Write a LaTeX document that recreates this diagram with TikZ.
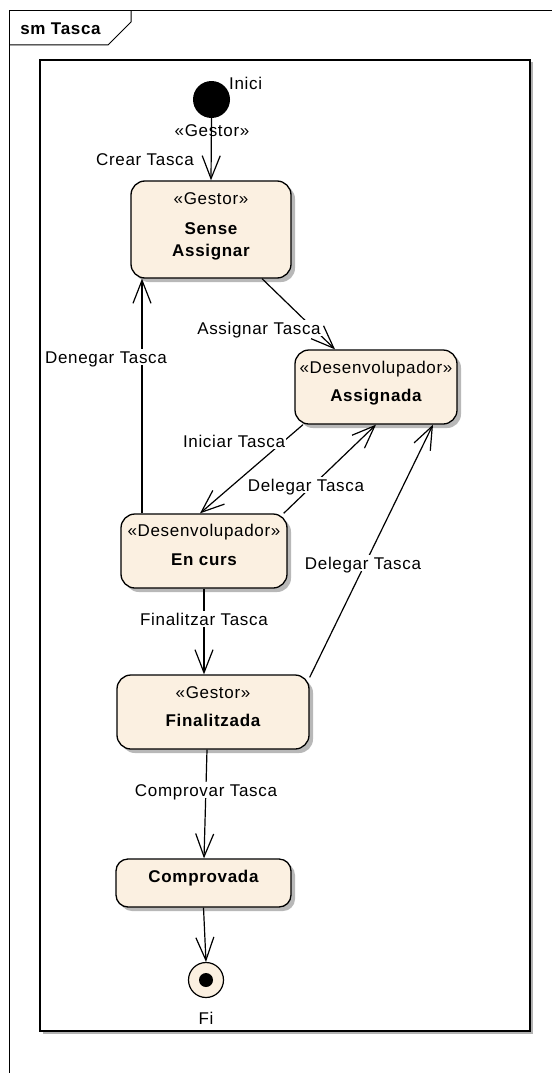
\documentclass[tikz,border=0pt]{standalone}
\usepackage{fontspec}
\setmainfont{Liberation Sans}[LetterSpace=4]
\usetikzlibrary{arrows.meta,shadows}
\definecolor{statefill}{RGB}{251,240,225}
\begin{document}
\begin{tikzpicture}[x=1pt,y=-1pt,
  every node/.style={font=\fontsize{17}{20}\selectfont, inner sep=0pt},
  statebox/.style={draw, fill=statefill, rounded corners=14pt, line width=1.3pt,
    general shadow={fill=black!28, shadow xshift=4pt, shadow yshift=-4pt}},
  stereo/.style={text height=12.5pt, text depth=0.5pt},
  ttl/.style={font=\fontsize{17}{20}\selectfont\bfseries, text height=12.5pt, text depth=0.5pt},
  lbl/.style={fill=white, inner sep=1.5pt, text height=12.5pt, text depth=0.5pt},
  trans/.style={line width=1.2pt, -{Straight Barb[length=23pt,width=18pt]}}]

% page and frames
\useasboundingbox (0,0) rectangle (552,1073);
\fill[white] (0,0) rectangle (552,1073);
\draw[line width=1pt] (9,1073) -- (9,11) -- (552,11);
\draw[line width=1pt] (9,45) -- (108,45) -- (131,22) -- (131,11);
\node[ttl] (frametitle) at (60.5,29) {sm Tasca};
\fill[black!30] (42.5,62.5) rectangle (532.5,1033.5);
\draw[line width=1.3pt, fill=white] (40,60) rectangle (530,1031);

% states
\node[circle, fill=black, minimum size=37pt] (init) at (211.5,99.5) {};
\node[anchor=west, stereo] (initlbl) at (229,83) {Inici};

\node[statebox, minimum width=160pt, minimum height=97pt] (sa) at (211,229.5) {};
\node[stereo] (sast) at (211,198) {«Gestor»};
\node[ttl] (sat1) at (211,228) {Sense};
\node[ttl] (sat2) at (211,250) {Assignar};

\node[statebox, minimum width=162pt, minimum height=74pt] (as) at (376,387) {};
\node[stereo] (asst) at (376,367) {«Desenvolupador»};
\node[ttl] (ast) at (376,395) {Assignada};

\node[statebox, minimum width=166pt, minimum height=74pt] (ec) at (204,551) {};
\node[stereo] (ecst) at (204,530) {«Desenvolupador»};
\node[ttl] (ect) at (204,559) {En curs};

\node[statebox, minimum width=192pt, minimum height=74pt] (fz) at (213,712) {};
\node[stereo] (fzst) at (213,692) {«Gestor»};
\node[ttl] (fzt) at (213,720) {Finalitzada};

\node[statebox, minimum width=175pt, minimum height=48pt, rounded corners=12pt] (cp) at (203.5,883) {};
\node[ttl] (cpt) at (203.5,876) {Comprovada};

\node[circle, draw, line width=1.2pt, fill=statefill, minimum size=35pt] (fi) at (206,980) {};
\node[circle, fill=black, minimum size=14pt] (fidot) at (fi.center) {};
\node[stereo] (filbl) at (206,1018) {Fi};

% transitions
\draw[trans] (init.south) -- (sa.north);
\draw[trans] ([xshift=51pt]sa.south) -- ([xshift=-41pt]as.north);
\draw[trans] ([xshift=-62pt]ec.north) -- ([xshift=-62pt]ec.north |- sa.south);
\draw[trans] ([xshift=-73pt]as.south) -- ([xshift=-4pt]ec.north);
\draw[trans] ([xshift=-4pt]ec.north east) -- (as.south);
\draw[trans] ([yshift=-3pt]fz.north east) -- ([xshift=57pt]as.south);
\draw[trans] (ec.south) -- (ec.south |- fz.north);
\draw[trans] ([xshift=-6pt]fz.south) -- ([xshift=0.5pt]cp.north);
\draw[trans] (cp.south) -- (fi.north);

% transition labels
\node[stereo] (g0) at (212,130) {«Gestor»};
\node[lbl] (l0) at (145,159) {Crear Tasca};
\node[lbl] (l1) at (259,328) {Assignar Tasca};
\node[lbl] (l2) at (106,357) {Denegar Tasca};
\node[lbl] (l3) at (234,441) {Iniciar Tasca};
\node[lbl] (l4) at (306,485) {Delegar Tasca};
\node[lbl] (l5) at (363,563) {Delegar Tasca};
\node[lbl] (l6) at (204,619) {Finalitzar Tasca};
\node[lbl] (l7) at (206,790) {Comprovar Tasca};
\end{tikzpicture}
\end{document}
